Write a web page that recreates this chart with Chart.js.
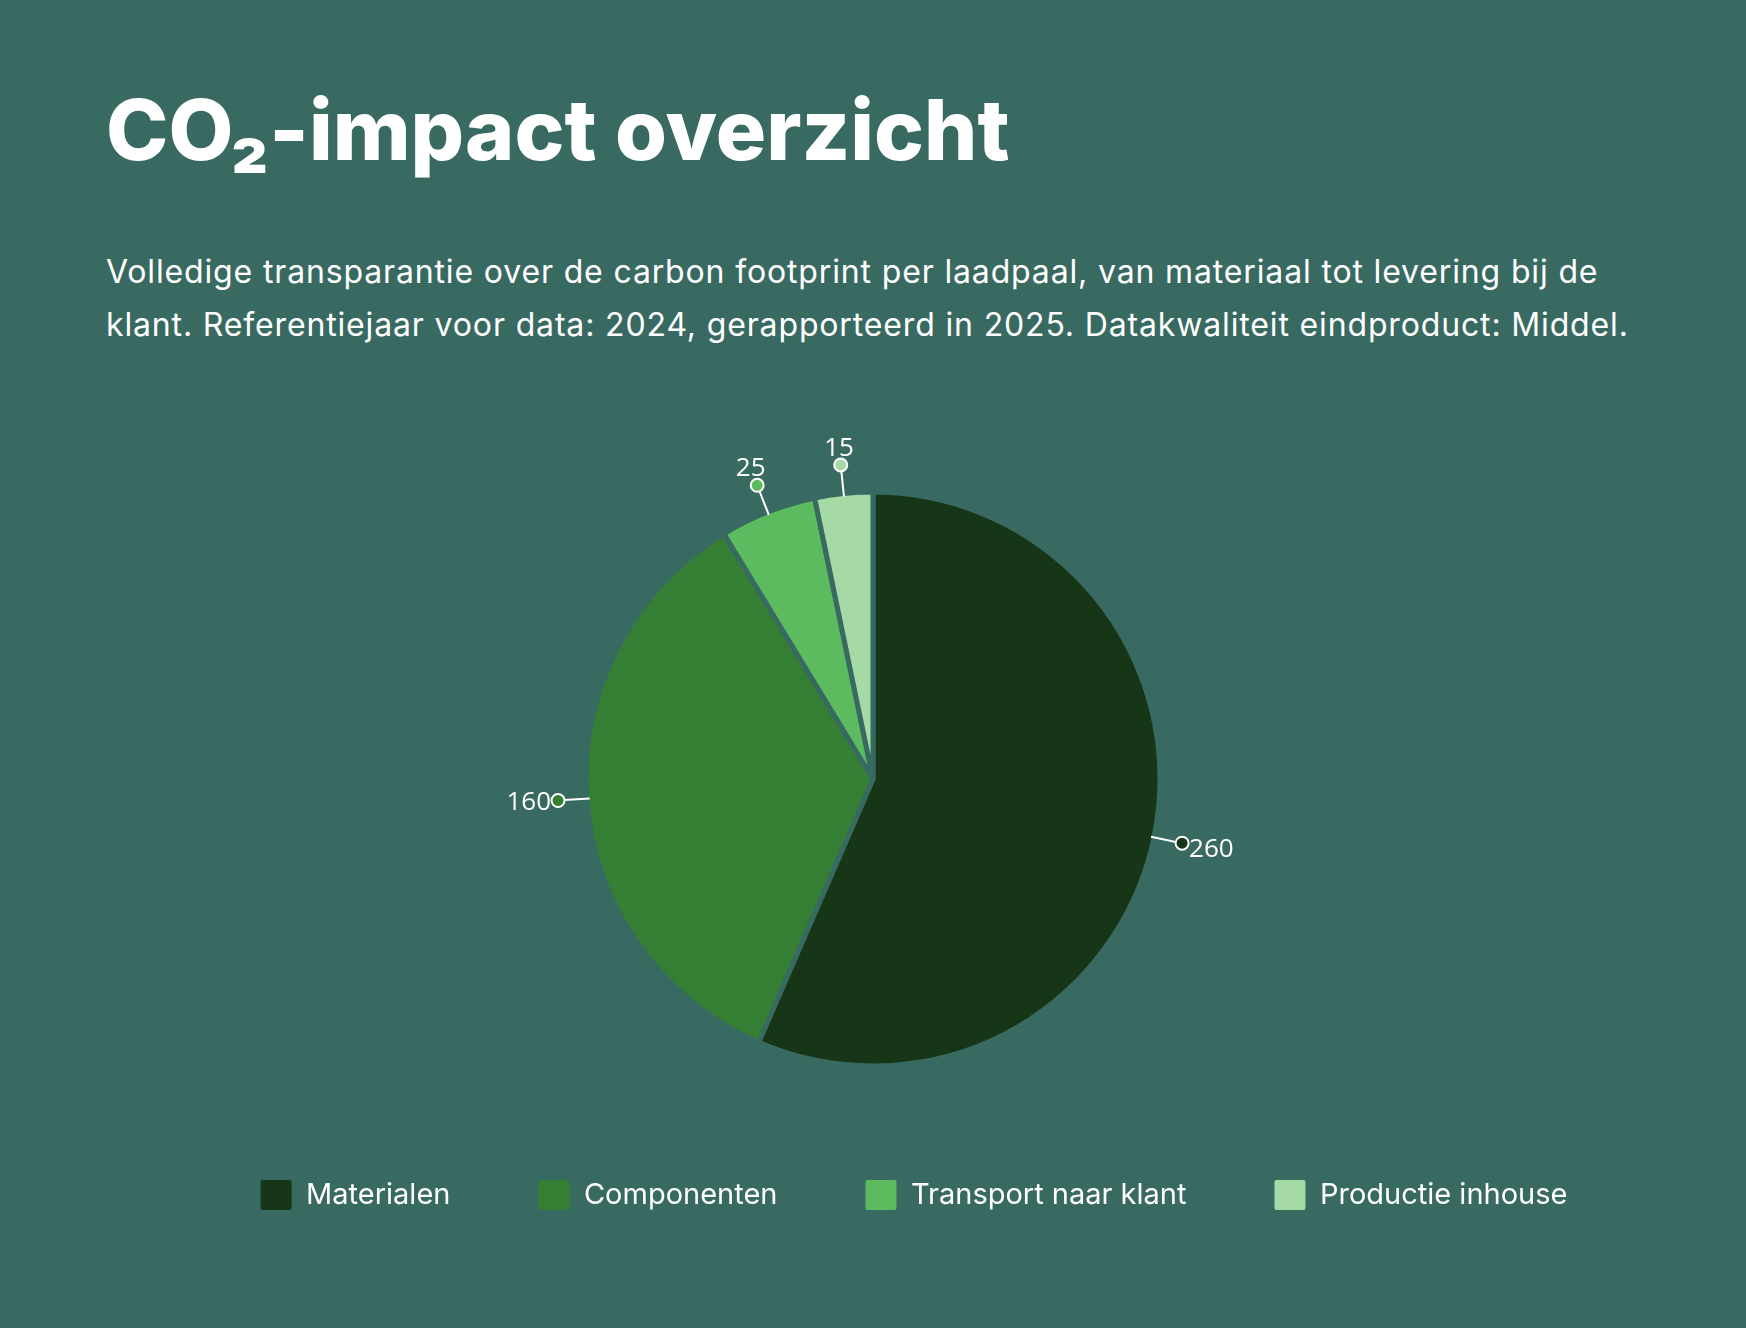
<!DOCTYPE html>
<html>
<head>
<meta charset="utf-8">
<script src="https://cdn.jsdelivr.net/npm/chart.js@4.4.1/dist/chart.umd.min.js"></script>
<style>
  html, body { margin: 0; padding: 0; }
  body { width: 1746px; height: 1328px; background: #386A62; position: relative; overflow: hidden; font-family: Inter, "Open Sans", sans-serif; color: #fff; }
  h1 { position: absolute; left: 106px; top: 88px; margin: 0; font-size: 84px; line-height: 84px; font-weight: 800; white-space: nowrap; }
  .sub { position: absolute; left: 106px; top: 246px; margin: 0; font-size: 32px; line-height: 52.6px; letter-spacing: 0.85px; white-space: nowrap; }
  #wrap { position: absolute; left: 0; top: 400px; width: 1746px; height: 820px; }
</style>
</head>
<body>
<h1>CO₂-impact overzicht</h1>
<p class="sub">Volledige transparantie over de carbon footprint per laadpaal, van materiaal tot levering bij de<br>klant. Referentiejaar voor data: 2024, gerapporteerd in 2025. Datakwaliteit eindproduct: Middel.</p>
<div id="wrap"><canvas id="mycanvas"></canvas></div>
<script>
var bg = "#386A62";
var labels = ["Materialen", "Componenten", "Transport naar klant", "Productie inhouse"];
var values = [260, 160, 25, 15];
var colors = ["#173517", "#357F35", "#5CBB5F", "#A5D9A5"];

/* values outside the pie with a small leader line and dot */
var outerLabels = {
  id: 'outerLabels',
  afterDatasetsDraw: function(chart) {
    var ctx = chart.ctx;
    var meta = chart.getDatasetMeta(0);
    ctx.save();
    ctx.font = '26px "Open Sans"';
    meta.data.forEach(function(arc, i) {
      var p = arc.getProps(['x', 'y', 'startAngle', 'endAngle', 'outerRadius'], true);
      var mid = (p.startAngle + p.endAngle) / 2;
      var ux = Math.cos(mid), uy = Math.sin(mid);
      var r0 = p.outerRadius - 3;
      var r1 = p.outerRadius * 1.10;
      var dot = 6.5;
      ctx.strokeStyle = '#fff';
      ctx.lineWidth = 2;
      ctx.beginPath();
      ctx.moveTo(p.x + ux * r0, p.y + uy * r0);
      ctx.lineTo(p.x + ux * (r1 - dot), p.y + uy * (r1 - dot));
      ctx.stroke();
      var cx = p.x + ux * r1, cy = p.y + uy * r1;
      ctx.beginPath();
      ctx.arc(cx, cy, dot, 0, Math.PI * 2);
      ctx.fillStyle = colors[i];
      ctx.fill();
      ctx.stroke();
      var txt = String(values[i]);
      var w = ctx.measureText(txt).width, h = 19, g = 7;
      var dx = Math.abs(ux) > 1e-6 ? (w / 2 + g) / Math.abs(ux) : 1e9;
      var dy = Math.abs(uy) > 1e-6 ? (h / 2 + g) / Math.abs(uy) : 1e9;
      var d = Math.min(dx, dy);
      ctx.fillStyle = '#fff';
      ctx.textAlign = 'center';
      ctx.textBaseline = 'middle';
      ctx.fillText(txt, cx + ux * d, cy + uy * d);
    });
    ctx.restore();
  }
};

/* the legend row sits a bit right of the pie centre */
var legendShift = {
  id: 'legendShift',
  beforeDraw: function(chart) {
    if (chart.legend && !chart.legend._shifted) {
      chart.legend.left += 41;
      chart.legend.right += 41;
      chart.legend._shifted = true;
    }
  },
  afterLayout: function(chart) {
    if (chart.legend) chart.legend._shifted = false;
  }
};

var ctx = document.getElementById('mycanvas');
var chart = new Chart(ctx, {
  type: 'pie',
  data: {
    labels: labels,
    datasets: [{
      data: values,
      backgroundColor: colors,
      borderColor: bg,
      borderWidth: 5
    }]
  },
  options: {
    responsive: true,
    maintainAspectRatio: false,
    animation: false,
    radius: 287,
    layout: { padding: { top: 66, bottom: 0, left: 0, right: 0 } },
    plugins: {
      legend: {
        position: 'bottom',
        labels: {
          color: '#fff',
          font: { family: 'Inter', size: 29 },
          boxWidth: 31,
          boxHeight: 30,
          padding: 88,
          useBorderRadius: true,
          borderRadius: 2,
          generateLabels: function(chart) {
            var items = Chart.controllers.pie.overrides.plugins.legend.labels.generateLabels(chart);
            items.forEach(function(it) { it.lineWidth = 0; it.strokeStyle = 'transparent'; });
            return items;
          }
        }
      },
      tooltip: { enabled: false }
    }
  },
  plugins: [outerLabels, legendShift]
});
</script>
</body>
</html>
